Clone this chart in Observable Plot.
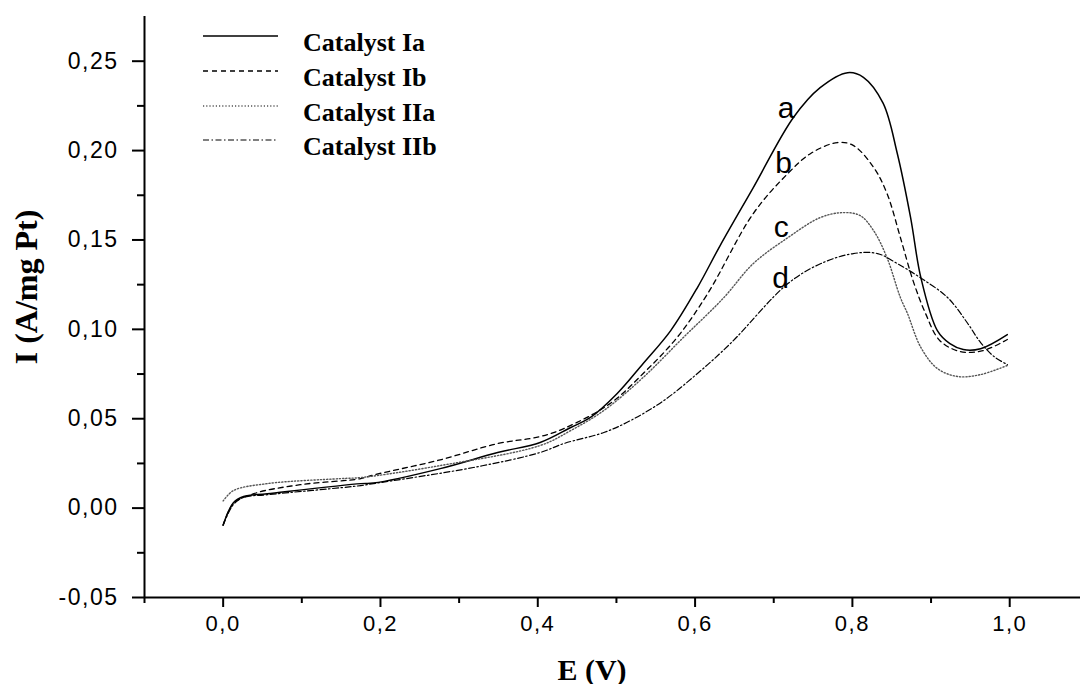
<!DOCTYPE html>
<html><head><meta charset="utf-8">
<script src="https://cdn.jsdelivr.net/npm/d3@7"></script>
<script src="https://cdn.jsdelivr.net/npm/@observablehq/plot@0.6"></script>
<style>
body{margin:0;background:#fff}
svg text{fill:#000}
</style>
</head><body><div id="chart"></div>
<script>
// ---- data ----
const seriesNames = ["Catalyst Ia", "Catalyst Ib", "Catalyst IIa", "Catalyst IIb"];
const curveLetters = ["a", "b", "c", "d"];

const E_a = [0.000, 0.013, 0.026, 0.056, 0.175, 0.191, 0.276, 0.349, 0.403, 0.442, 0.467, 0.501, 0.534, 0.569, 0.603, 0.632, 0.674, 0.725, 0.759, 0.794, 0.814, 0.839, 0.857, 0.874, 0.887, 0.908, 0.924, 0.941, 0.963, 0.997];
const I_a = [-0.0095, 0.003, 0.0065, 0.008, 0.0137, 0.0140, 0.0221, 0.0311, 0.0367, 0.0451, 0.0507, 0.0641, 0.0809, 0.0993, 0.1234, 0.1470, 0.1793, 0.2185, 0.2352, 0.2436, 0.2410, 0.2265, 0.1985, 0.1625, 0.1290, 0.0993, 0.0920, 0.0887, 0.0892, 0.0971];

const E_b = [0.000, 0.013, 0.039, 0.098, 0.175, 0.191, 0.276, 0.349, 0.403, 0.433, 0.492, 0.534, 0.577, 0.616, 0.674, 0.718, 0.747, 0.781, 0.801, 0.827, 0.844, 0.861, 0.877, 0.893, 0.911, 0.937, 0.966, 0.997];
const I_b = [-0.0095, 0.0025, 0.0081, 0.0131, 0.0165, 0.0185, 0.0270, 0.0361, 0.0400, 0.0445, 0.0585, 0.0753, 0.0954, 0.1200, 0.1648, 0.1872, 0.1984, 0.2045, 0.2029, 0.1906, 0.1760, 0.1514, 0.1274, 0.1089, 0.0938, 0.0876, 0.0881, 0.0943];

const E_c = [0.000, 0.013, 0.056, 0.149, 0.175, 0.276, 0.403, 0.442, 0.484, 0.534, 0.585, 0.636, 0.674, 0.718, 0.759, 0.788, 0.810, 0.827, 0.844, 0.861, 0.870, 0.887, 0.908, 0.934, 0.963, 0.997];
const I_c = [0.004, 0.0098, 0.0137, 0.0165, 0.0171, 0.0238, 0.0350, 0.0434, 0.0546, 0.0731, 0.0954, 0.1175, 0.1368, 0.1513, 0.1625, 0.1653, 0.1636, 0.1552, 0.1401, 0.1178, 0.1089, 0.0899, 0.0781, 0.0736, 0.0747, 0.0798];

const E_d = [0.000, 0.013, 0.026, 0.056, 0.175, 0.191, 0.318, 0.403, 0.433, 0.484, 0.518, 0.560, 0.603, 0.645, 0.718, 0.760, 0.801, 0.832, 0.857, 0.886, 0.921, 0.946, 0.963, 0.980, 0.997];
const I_d = [-0.0095, 0.002, 0.006, 0.0075, 0.0126, 0.0137, 0.0227, 0.0311, 0.0361, 0.0423, 0.0490, 0.0601, 0.0753, 0.0921, 0.1256, 0.1368, 0.1424, 0.1424, 0.1368, 0.1290, 0.1178, 0.1037, 0.0926, 0.0848, 0.0803];

// positions of the curve letters (data coordinates)
const letterE = [0.705, 0.702, 0.700, 0.698];
const letterI = [0.2185, 0.1872, 0.1514, 0.1234];

const xMajorTicks = [0.0, 0.2, 0.4, 0.6, 0.8, 1.0];
const xMinorTicks = [-0.1, 0.1, 0.3, 0.5, 0.7, 0.9];
const yMajorTicks = [-0.05, 0.00, 0.05, 0.10, 0.15, 0.20, 0.25];
const yMinorTicks = [-0.025, 0.025, 0.075, 0.125, 0.175, 0.225];

// ---- build ----
const allE = [E_a, E_b, E_c, E_d];
const allI = [I_a, I_b, I_c, I_d];
const rows = [];
allE.forEach((es, k) => es.forEach((e, i) => rows.push({series: seriesNames[k], E: e, I: allI[k][i]})));
const letters = curveLetters.map((t, k) => ({t, E: letterE[k], I: letterI[k]}));

const styles = [
  {stroke: "#000", strokeWidth: 1.5, dash: null},
  {stroke: "#000", strokeWidth: 1.3, dash: "5,4"},
  {stroke: "#555", strokeWidth: 1.4, dash: "1.2,2"},
  {stroke: "#000", strokeWidth: 1.2, dash: "6,2.5,1.5,2.5"}
];

const fmtX = v => d3.format(".1f")(v).replace(".", ",").replace("\u2212", "-");
const fmtY = v => d3.format(".2f")(v).replace(".", ",").replace("\u2212", "-");

const marks = [];
seriesNames.forEach((s, k) => {
  marks.push(Plot.line(rows.filter(r => r.series === s), {
    x: "E", y: "I", curve: "catmull-rom",
    stroke: styles[k].stroke, strokeWidth: styles[k].strokeWidth,
    strokeDasharray: styles[k].dash
  }));
});
marks.push(
  Plot.ruleY([-0.05], {strokeWidth: 2}),
  Plot.ruleX([-0.1], {strokeWidth: 2}),
  Plot.axisX({ticks: xMajorTicks, tickSize: 10, tickPadding: 8, tickFormat: fmtX, strokeWidth: 2, fontSize: 22, label: null}),
  Plot.axisX({ticks: xMinorTicks, tickSize: 6, tickFormat: () => "", strokeWidth: 2, label: null}),
  Plot.axisY({ticks: yMajorTicks, tickSize: 12, tickPadding: 14, tickFormat: fmtY, strokeWidth: 2, fontSize: 23, label: null}),
  Plot.axisY({ticks: yMinorTicks, tickSize: 7, tickFormat: () => "", strokeWidth: 2, label: null}),
  Plot.text(letters, {x: "E", y: "I", text: "t", textAnchor: "start", lineAnchor: "bottom",
    fontSize: 30, fontFamily: "Liberation Sans, Arial, sans-serif"})
);

const plot = Plot.plot({
  width: 1080, height: 684,
  marginLeft: 144, marginRight: 0, marginTop: 16, marginBottom: 87,
  x: {domain: [-0.1, 1.09]},
  y: {domain: [-0.05, 0.275]},
  style: {fontFamily: "Liberation Sans, Arial, sans-serif", background: "#fff", color: "#000", overflow: "visible"},
  marks
});
document.getElementById("chart").appendChild(plot);

const svg = d3.select(plot);
// letter spacing on tick labels (reference glyphs are wide)
svg.selectAll("g[aria-label='x-axis tick label'] text").style("letter-spacing", "1.5px");
svg.selectAll("g[aria-label='y-axis tick label'] text").style("letter-spacing", "1.5px");

const serif = "Liberation Serif, Times New Roman, serif";
// axis titles
svg.append("text").attr("x", 592).attr("y", 680).attr("text-anchor", "middle")
  .style("font-family", serif).style("font-weight", "bold").style("font-size", "30px")
  .text("E (V)");
svg.append("text").attr("transform", "translate(37,287) rotate(-90)").attr("text-anchor", "middle")
  .style("font-family", serif).style("font-weight", "bold").style("font-size", "32px")
  .text("I (A/mg Pt)");

// legend
const legY = [36, 71, 106, 140];
const lg = svg.append("g");
seriesNames.forEach((s, k) => {
  lg.append("line").attr("x1", 203).attr("x2", 278).attr("y1", legY[k]).attr("y2", legY[k])
    .attr("stroke", styles[k].stroke).attr("stroke-width", styles[k].strokeWidth)
    .attr("stroke-dasharray", styles[k].dash);
  lg.append("text").attr("x", 303).attr("y", legY[k] + 15).attr("text-anchor", "start")
    .style("font-family", serif).style("font-weight", "bold").style("font-size", "26px")
    .text(s);
});
</script>
</body></html>
